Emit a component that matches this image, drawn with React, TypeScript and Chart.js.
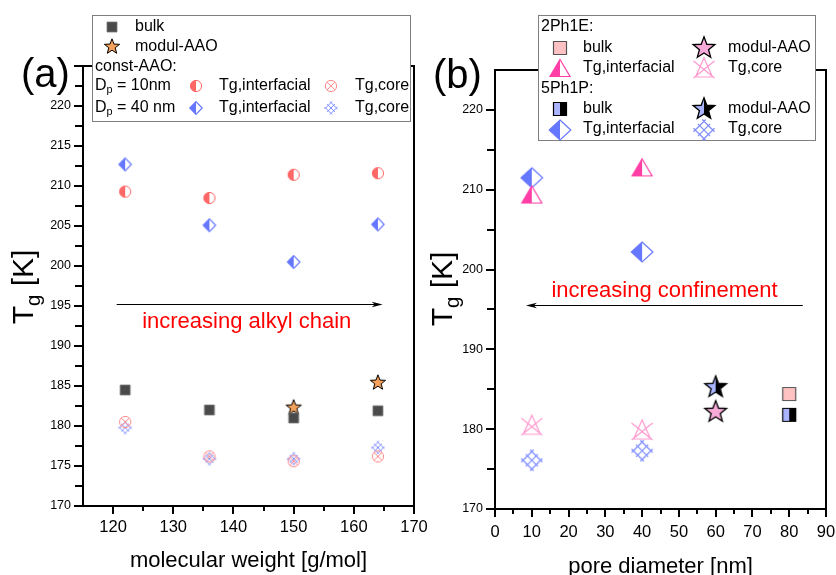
import React, { useEffect, useRef } from 'react';
import { Chart, registerables } from 'chart.js';

Chart.register(...registerables);

const FF = '"Liberation Sans", Arial, Helvetica, sans-serif';

// ---------------- Panel (a): Tg vs molecular weight ----------------
const molecularWeights = [122, 136, 150, 164];
const bulkTgA = [184.5, 182.0, 181.0, 181.9];
const modulMolecularWeights = [150, 164];
const modulTgA = [182.4, 185.5];
const interfacial10A = [209.3, 208.5, 211.4, 211.6];
const core10A = [180.5, 176.2, 175.6, 176.2];
const interfacial40A = [212.7, 205.1, 200.5, 205.2];
const core40A = [179.8, 175.9, 175.9, 177.3];
const xRangeA = [115, 170];
const yRangeA = [170, 225];
const xMajorA = [120, 130, 140, 150, 160, 170];
const xMinorA = [125, 135, 145, 155, 165];
const yMajorA = [170, 175, 180, 185, 190, 195, 200, 205, 210, 215, 220, 225];
const yMinorA = [172.5, 177.5, 182.5, 187.5, 192.5, 197.5, 202.5, 207.5, 212.5, 217.5, 222.5];

// ---------------- Panel (b): Tg vs pore diameter ----------------
const poreDiameters = [10, 40];
const interfacial2Ph1E = [209.4, 212.8];
const core2Ph1E = [180.5, 179.9];
const interfacial5Ph1P = [211.5, 202.2];
const core5Ph1P = [176.1, 177.3];
const bulkPore = [80];
const bulk2Ph1E = [184.4];
const bulk5Ph1P = [181.8];
const modulPore = [60];
const modul2Ph1E = [182.3];
const modul5Ph1P = [185.4];
const xRangeB = [0, 90];
const yRangeB = [170, 225];
const xMajorB = [0, 10, 20, 30, 40, 50, 60, 70, 80, 90];
const xMinorB = [5, 15, 25, 35, 45, 55, 65, 75, 85];
const yMajorB = [170, 180, 190, 200, 210, 220];
const yMinorB = [175, 185, 195, 205, 215];

// annotation anchors (data units)
const arrowA = { from: 120.6, to: 164.8, y: 195.25, textX: 142.2, textY: 192.25 };
const arrowB = { from: 83.7, to: 8.4, y: 195.6, textX: 46.1, textY: 196.5 };

// page split between the two canvases
const SPLIT = 430;
const PAGE_W = 836;
const PAGE_H = 575;

// colours
const RED = '#ff6666';
const RED_LIGHT = '#ff8c8c';
const BLUE = '#6677ff';
const BLUE_LIGHT = '#7d8dff';
const MAGENTA = '#ff3ea6';
const PINK_LIGHT = '#ff99cf';
const LAVENDER = '#aab4ff';

type Ctx = CanvasRenderingContext2D;

function canvasFor(w: number, h: number, draw: (ctx: Ctx) => void) {
  const c = document.createElement('canvas');
  c.width = 2 * Math.ceil(w / 2 + 2);
  c.height = 2 * Math.ceil(h / 2 + 2);
  const ctx = c.getContext('2d')!;
  ctx.translate(c.width / 2, c.height / 2);
  draw(ctx);
  return c;
}

function halfFilled(ctx: Ctx, path: () => void, left: string, right: string, stroke: string, lw: number) {
  path();
  ctx.fillStyle = right;
  ctx.fill();
  ctx.save();
  ctx.beginPath();
  ctx.rect(-60, -60, 60, 120);
  ctx.clip();
  path();
  ctx.fillStyle = left;
  ctx.fill();
  ctx.restore();
  path();
  ctx.strokeStyle = stroke;
  ctx.lineWidth = lw;
  ctx.stroke();
}

function starPath(ctx: Ctx, R: number) {
  const r = R * 0.42;
  const dy = R * 0.1;
  ctx.beginPath();
  for (let i = 0; i < 10; i++) {
    const a = -Math.PI / 2 + (i * Math.PI) / 5;
    const rad = i % 2 ? r : R;
    const x = Math.cos(a) * rad;
    const y = Math.sin(a) * rad + dy;
    if (i === 0) ctx.moveTo(x, y);
    else ctx.lineTo(x, y);
  }
  ctx.closePath();
}

function squareMarker(s: number, left: string, right: string, stroke: string, lw: number) {
  return canvasFor(s, s, (ctx) =>
    halfFilled(ctx, () => { ctx.beginPath(); ctx.rect(-s / 2, -s / 2, s, s); }, left, right, stroke, lw)
  );
}

function starMarker(R: number, left: string, right: string, lw: number) {
  return canvasFor(2 * R, 2 * R, (ctx) => halfFilled(ctx, () => starPath(ctx, R), left, right, '#000', lw));
}

function halfCircle(r: number, color: string) {
  return canvasFor(2 * r, 2 * r, (ctx) =>
    halfFilled(ctx, () => { ctx.beginPath(); ctx.arc(0, 0, r, 0, Math.PI * 2); }, color, '#fff', color, 1)
  );
}

function xCircle(r: number, color: string) {
  return canvasFor(2 * r, 2 * r, (ctx) => {
    ctx.strokeStyle = color;
    ctx.lineWidth = 1;
    ctx.beginPath();
    ctx.arc(0, 0, r, 0, Math.PI * 2);
    const d = r * Math.SQRT1_2;
    ctx.moveTo(-d, -d); ctx.lineTo(d, d);
    ctx.moveTo(d, -d); ctx.lineTo(-d, d);
    ctx.stroke();
  });
}

function halfDiamond(w: number, h: number, color: string) {
  return canvasFor(2 * w, 2 * h, (ctx) =>
    halfFilled(ctx, () => {
      ctx.beginPath();
      ctx.moveTo(0, -h); ctx.lineTo(w, 0); ctx.lineTo(0, h); ctx.lineTo(-w, 0); ctx.closePath();
    }, color, '#fff', color, 1.2)
  );
}

function halfTriangle(w: number, h: number, color: string) {
  return canvasFor(w, h, (ctx) =>
    halfFilled(ctx, () => {
      ctx.beginPath();
      ctx.moveTo(0, -h / 2); ctx.lineTo(w / 2, h / 2); ctx.lineTo(-w / 2, h / 2); ctx.closePath();
    }, color, '#fff', color, 1.2)
  );
}

function triX(w: number, h: number, color: string) {
  return canvasFor(w, h, (ctx) => {
    ctx.strokeStyle = color;
    ctx.lineWidth = 1.2;
    ctx.beginPath();
    ctx.moveTo(0, -h / 2); ctx.lineTo(w / 2 - 2, h / 2 - 1); ctx.lineTo(-w / 2 + 2, h / 2 - 1); ctx.closePath();
    ctx.moveTo(-w / 2, -h / 2 + 3); ctx.lineTo(w / 2, h / 2);
    ctx.moveTo(w / 2, -h / 2 + 3); ctx.lineTo(-w / 2, h / 2);
    ctx.stroke();
  });
}

function hatch(s: number, color: string, lw: number) {
  return canvasFor(s, s, (ctx) => {
    const A = s / 2 / 1.2;
    const e = 0.4 * A;
    ctx.strokeStyle = color;
    ctx.lineWidth = lw;
    ctx.beginPath();
    for (const c of [-A, 0, A]) {
      ctx.moveTo((c - A - e) / 2, (c + A + e) / 2);
      ctx.lineTo((c + A + e) / 2, (c - A - e) / 2);
      ctx.moveTo((-A - e + c) / 2, (-A - e - c) / 2);
      ctx.lineTo((A + e + c) / 2, (A + e - c) / 2);
    }
    ctx.stroke();
  });
}

function buildMarkers() {
  return {
    bulkA: squareMarker(10, '#4a4a4a', '#4a4a4a', '#7a7a7a', 0.8),
    starA: starMarker(8, '#f4a15d', '#f4a15d', 1),
    half10: halfCircle(5.6, RED),
    xcirc10: xCircle(5.6, RED_LIGHT),
    diamond40: halfDiamond(6.2, 6.4, BLUE),
    hatch40: hatch(13, BLUE_LIGHT, 1),
    bulk2: squareMarker(13, '#ffc2c2', '#ffc2c2', '#555', 1.2),
    star2: starMarker(11.4, '#f7aad8', '#f7aad8', 1.3),
    tri2: halfTriangle(20, 17, MAGENTA),
    trix2: triX(21, 20, PINK_LIGHT),
    bulk5: squareMarker(13, LAVENDER, '#000', '#000', 1.2),
    star5: starMarker(11.4, LAVENDER, '#000', 1.3),
    diamond5: halfDiamond(10.8, 10, BLUE),
    hatch5: hatch(21, BLUE_LIGHT, 1.2),
  };
}
type Markers = ReturnType<typeof buildMarkers>;

function put(ctx: Ctx, img: HTMLCanvasElement, x: number, y: number) {
  ctx.drawImage(img, Math.round(x - img.width / 2), Math.round(y - img.height / 2));
}

function richText(ctx: Ctx, x: number, y: number, parts: Array<{ t: string; sub?: boolean }>, size: number, center: boolean) {
  const subSize = size * 0.68;
  ctx.textAlign = 'left';
  const widths = parts.map((p) => {
    ctx.font = `${p.sub ? subSize : size}px ${FF}`;
    return ctx.measureText(p.t).width;
  });
  const total = widths.reduce((a, b) => a + b, 0);
  let cx = center ? x - total / 2 : x;
  parts.forEach((p, i) => {
    ctx.font = `${p.sub ? subSize : size}px ${FF}`;
    ctx.fillText(p.t, cx, p.sub ? y + size * 0.22 : y);
    cx += widths[i];
  });
}

function yTitle(ctx: Ctx, xBase: number, yCenter: number) {
  ctx.save();
  ctx.translate(xBase, yCenter);
  ctx.rotate(-Math.PI / 2);
  ctx.fillStyle = '#000';
  ctx.textBaseline = 'alphabetic';
  richText(ctx, 0, 0, [{ t: 'T' }, { t: 'g', sub: true }, { t: ' [K]' }], 30, true);
  ctx.restore();
}

function drawArrow(ctx: Ctx, x1: number, x2: number, y: number) {
  const dir = Math.sign(x2 - x1);
  ctx.save();
  ctx.strokeStyle = '#000';
  ctx.fillStyle = '#000';
  ctx.lineWidth = 1.2;
  ctx.beginPath();
  ctx.moveTo(x1, y);
  ctx.lineTo(x2 - dir * 6, y);
  ctx.stroke();
  ctx.beginPath();
  ctx.moveTo(x2, y);
  ctx.lineTo(x2 - dir * 11, y - 2.8);
  ctx.lineTo(x2 - dir * 8, y);
  ctx.lineTo(x2 - dir * 11, y + 2.8);
  ctx.closePath();
  ctx.fill();
  ctx.restore();
}

function frameAndTicks(chart: any, xMajor: number[], xMinor: number[], yMajor: number[], yMinor: number[]) {
  const ctx: Ctx = chart.ctx;
  const sx = chart.scales.x;
  const sy = chart.scales.y;
  const l = Math.round(sx.left);
  const r = Math.round(sx.right);
  const t = Math.round(sy.top);
  const b = Math.round(sy.bottom);
  ctx.save();
  ctx.globalAlpha = 1;
  ctx.globalCompositeOperation = 'source-over';
  ctx.setLineDash([]);
  ctx.strokeStyle = '#000000';
  ctx.lineWidth = 2;
  ctx.beginPath();
  ctx.moveTo(l, t); ctx.lineTo(r, t); ctx.lineTo(r, b); ctx.lineTo(l, b); ctx.closePath();
  ctx.stroke();
  ctx.beginPath();
  for (const v of xMajor) { const p = Math.round(sx.getPixelForValue(v)); ctx.moveTo(p, b); ctx.lineTo(p, b + 8); }
  for (const v of xMinor) { const p = Math.round(sx.getPixelForValue(v)); ctx.moveTo(p, b); ctx.lineTo(p, b + 4); }
  for (const v of yMajor) { const p = Math.round(sy.getPixelForValue(v)); ctx.moveTo(l, p); ctx.lineTo(l - 9, p); }
  for (const v of yMinor) { const p = Math.round(sy.getPixelForValue(v)); ctx.moveTo(l, p); ctx.lineTo(l - 5, p); }
  ctx.stroke();
  ctx.restore();
}

function legendBox(ctx: Ctx, x: number, y: number, w: number, h: number) {
  ctx.fillStyle = '#fff';
  ctx.fillRect(x, y, w, h);
  ctx.strokeStyle = '#7f7f7f';
  ctx.lineWidth = 1;
  ctx.strokeRect(x + 0.5, y + 0.5, w - 1, h - 1);
  ctx.fillStyle = '#000';
  ctx.font = `16px ${FF}`;
  ctx.textBaseline = 'middle';
  ctx.textAlign = 'left';
}

// axis with the library's own border and outward tick marks (minor ones shortened by a dash)
function axisCfg(range: number[], major: number[], minor: number[], fit: (s: any) => void, size: number, padding: number, hideAbove: number) {
  const all = [...major, ...minor].sort((a, b) => a - b);
  const isMajor = (v: number) => major.some((m) => Math.abs(m - v) < 1e-6);
  return {
    type: 'linear' as const,
    min: range[0],
    max: range[1],
    bounds: 'data' as const,
    grid: {
      display: true,
      drawOnChartArea: false,
      drawTicks: true,
      tickLength: 8,
      color: '#000',
      lineWidth: 2,
      tickBorderDash: (c: any) => (c.tick && isMajor(c.tick.value) ? [] : [4, 40]),
    },
    border: { display: true, color: '#000', width: 2 },
    afterBuildTicks: (s: any) => { s.ticks = all.map((v) => ({ value: v })); },
    afterFit: fit,
    ticks: {
      autoSkip: false,
      maxRotation: 0,
      color: '#000',
      padding,
      font: { size, family: FF },
      callback: (v: any) => (isMajor(Number(v)) && Number(v) <= hideAbove ? String(v) : ''),
    },
  };
}

function frameAxis(position: 'top' | 'right', range: number[]) {
  return {
    type: 'linear' as const,
    position,
    min: range[0],
    max: range[1],
    display: true,
    grid: { display: false, drawTicks: false },
    ticks: { display: false },
    border: { display: true, color: '#000', width: 2 },
    afterFit: (s: any) => {
      if (position === 'top') s.height = 0; else s.width = 0;
      s.paddingLeft = 0; s.paddingRight = 0; s.paddingTop = 0; s.paddingBottom = 0;
    },
  };
}

function xy(xs: number[], ys: number[]) {
  return xs.map((x, i) => ({ x, y: ys[i] }));
}

function ds(label: string, xs: number[], ys: number[], img: HTMLCanvasElement) {
  return { label, data: xy(xs, ys), pointStyle: img, pointRadius: 6, showLine: false, clip: false as const, xAxisID: 'x', yAxisID: 'y' };
}

// plot frame as a closed polyline along the axis limits
function frameDs(xr: number[], yr: number[]) {
  return {
    type: 'line' as const,
    label: 'frame',
    data: [
      { x: xr[0], y: yr[1] }, { x: xr[1], y: yr[1] }, { x: xr[1], y: yr[0] }, { x: xr[0], y: yr[0] }, { x: xr[0], y: yr[1] },
    ],
    borderColor: '#000',
    borderWidth: 2,
    pointRadius: 0,
    fill: false,
    tension: 0,
    showLine: true,
    clip: false as const,
    xAxisID: 'x',
    yAxisID: 'y',
  };
}

function configA(m: Markers): any {
  const plugin = {
    id: 'decorA',
    afterDraw(chart: any) {
      frameAndTicks(chart, xMajorA, xMinorA, yMajorA, yMinorA);
      const ctx: Ctx = chart.ctx;
      const { x, y } = chart.scales;
      ctx.save();
      drawArrow(ctx, x.getPixelForValue(arrowA.from), x.getPixelForValue(arrowA.to), Math.round(y.getPixelForValue(arrowA.y)) + 0.5);
      ctx.fillStyle = '#ff0000';
      ctx.font = `22px ${FF}`;
      ctx.textAlign = 'center';
      ctx.textBaseline = 'alphabetic';
      ctx.fillText('increasing alkyl chain', x.getPixelForValue(arrowA.textX), y.getPixelForValue(arrowA.textY));
      ctx.fillStyle = '#000';
      ctx.fillText('molecular weight [g/mol]', (chart.chartArea.left + chart.chartArea.right) / 2, 567);
      ctx.font = `40px ${FF}`;
      ctx.textAlign = 'left';
      ctx.fillText('(a)', 21, 87);
      yTitle(ctx, 33, 287);
      legendBox(ctx, 92, 15, 319, 107);
      put(ctx, m.bulkA, 112, 27); ctx.fillText('bulk', 135, 27);
      put(ctx, m.starA, 112, 46); ctx.fillText('modul-AAO', 135, 47);
      ctx.fillText('const-AAO:', 95, 67);
      richText(ctx, 95, 86, [{ t: 'D' }, { t: 'p', sub: true }, { t: ' = 10nm' }], 16, false);
      put(ctx, m.half10, 196, 86); ctx.font = `16px ${FF}`; ctx.fillText('Tg,interfacial', 219, 86);
      put(ctx, m.xcirc10, 331, 86); ctx.fillText('Tg,core', 355, 86);
      richText(ctx, 95, 108, [{ t: 'D' }, { t: 'p', sub: true }, { t: ' = 40 nm' }], 16, false);
      put(ctx, m.diamond40, 196, 108); ctx.font = `16px ${FF}`; ctx.fillText('Tg,interfacial', 219, 108);
      put(ctx, m.hatch40, 331, 108); ctx.fillText('Tg,core', 355, 108);
      ctx.restore();
    },
  };
  return {
    type: 'scatter',
    data: {
      datasets: [
        frameDs(xRangeA, yRangeA),
        ds('bulk', molecularWeights, bulkTgA, m.bulkA),
        ds('Dp=10nm Tg,core', molecularWeights, core10A, m.xcirc10),
        ds('Dp=40nm Tg,core', molecularWeights, core40A, m.hatch40),
        ds('Dp=10nm Tg,interfacial', molecularWeights, interfacial10A, m.half10),
        ds('Dp=40nm Tg,interfacial', molecularWeights, interfacial40A, m.diamond40),
        ds('modul-AAO', modulMolecularWeights, modulTgA, m.starA),
      ],
    },
    options: {
      responsive: false,
      animation: false,
      devicePixelRatio: 1,
      events: [],
      layout: { padding: { left: 0, top: 66, right: 16, bottom: 0 } },
      plugins: { legend: { display: false }, tooltip: { enabled: false } },
      scales: {
        x: axisCfg(xRangeA, xMajorA, xMinorA, (s: any) => { s.height = 69; s.paddingLeft = 0; s.paddingRight = 0; }, 16.5, 4, 1e9),
        y: axisCfg(yRangeA, yMajorA, yMinorA, (s: any) => { s.width = 83; }, 12.5, 4, 220),
        x2: frameAxis('top', xRangeA),
        y2: frameAxis('right', yRangeA),
      },
    },
    plugins: [plugin],
  };
}

function configB(m: Markers): any {
  const plugin = {
    id: 'decorB',
    afterDraw(chart: any) {
      frameAndTicks(chart, xMajorB, xMinorB, yMajorB, yMinorB);
      const ctx: Ctx = chart.ctx;
      const { x, y } = chart.scales;
      ctx.save();
      drawArrow(ctx, x.getPixelForValue(arrowB.from), x.getPixelForValue(arrowB.to), Math.round(y.getPixelForValue(arrowB.y)) + 0.5);
      ctx.fillStyle = '#ff0000';
      ctx.font = `22px ${FF}`;
      ctx.textAlign = 'center';
      ctx.textBaseline = 'alphabetic';
      ctx.fillText('increasing confinement', x.getPixelForValue(arrowB.textX), y.getPixelForValue(arrowB.textY));
      ctx.fillStyle = '#000';
      ctx.fillText('pore diameter [nm]', (chart.chartArea.left + chart.chartArea.right) / 2, 573);
      // remaining decorations are placed in page coordinates
      ctx.translate(-SPLIT, 0);
      ctx.font = `40px ${FF}`;
      ctx.textAlign = 'left';
      ctx.fillText('(b)', 433, 88);
      yTitle(ctx, 452, 289);
      legendBox(ctx, 538, 15, 278, 126);
      ctx.fillText('2Ph1E:', 541, 27);
      put(ctx, m.bulk2, 560, 48); ctx.fillText('bulk', 583, 48);
      put(ctx, m.star2, 704, 47); ctx.fillText('modul-AAO', 728, 48);
      put(ctx, m.tri2, 560, 68); ctx.fillText('Tg,interfacial', 583, 68);
      put(ctx, m.trix2, 704, 68); ctx.fillText('Tg,core', 728, 68);
      ctx.fillText('5Ph1P:', 541, 89);
      put(ctx, m.bulk5, 560, 109); ctx.fillText('bulk', 583, 109);
      put(ctx, m.star5, 704, 108); ctx.fillText('modul-AAO', 728, 109);
      put(ctx, m.diamond5, 560, 130); ctx.fillText('Tg,interfacial', 583, 129);
      put(ctx, m.hatch5, 704, 130); ctx.fillText('Tg,core', 728, 129);
      ctx.restore();
    },
  };
  return {
    type: 'scatter',
    data: {
      datasets: [
        frameDs(xRangeB, yRangeB),
        ds('2Ph1E Tg,core', poreDiameters, core2Ph1E, m.trix2),
        ds('5Ph1P Tg,core', poreDiameters, core5Ph1P, m.hatch5),
        ds('2Ph1E Tg,interfacial', poreDiameters, interfacial2Ph1E, m.tri2),
        ds('5Ph1P Tg,interfacial', poreDiameters, interfacial5Ph1P, m.diamond5),
        ds('2Ph1E bulk', bulkPore, bulk2Ph1E, m.bulk2),
        ds('5Ph1P bulk', bulkPore, bulk5Ph1P, m.bulk5),
        ds('2Ph1E modul-AAO', modulPore, modul2Ph1E, m.star2),
        ds('5Ph1P modul-AAO', modulPore, modul5Ph1P, m.star5),
      ],
    },
    options: {
      responsive: false,
      animation: false,
      devicePixelRatio: 1,
      events: [],
      layout: { padding: { left: 0, top: 70, right: 10, bottom: 0 } },
      plugins: { legend: { display: false }, tooltip: { enabled: false } },
      scales: {
        x: axisCfg(xRangeB, xMajorB, xMinorB, (s: any) => { s.height = 66; s.paddingLeft = 0; s.paddingRight = 0; }, 16.5, 6, 1e9),
        y: axisCfg(yRangeB, yMajorB, yMinorB, (s: any) => { s.width = 65; }, 12.5, 4, 1e9),
        x2: frameAxis('top', xRangeB),
        y2: frameAxis('right', yRangeB),
      },
    },
    plugins: [plugin],
  };
}

export default function App() {
  const refA = useRef<HTMLCanvasElement>(null);
  const refB = useRef<HTMLCanvasElement>(null);
  useEffect(() => {
    const markers = buildMarkers();
    const a = new Chart(refA.current!, configA(markers));
    const b = new Chart(refB.current!, configB(markers));
    return () => {
      a.destroy();
      b.destroy();
    };
  }, []);
  return (
    <div style={{ position: 'fixed', left: 0, top: 0, width: PAGE_W, height: PAGE_H, background: '#fff' }}>
      <canvas
        ref={refA}
        width={SPLIT}
        height={PAGE_H}
        style={{ position: 'absolute', left: 0, top: 0, width: SPLIT, height: PAGE_H }}
      />
      <canvas
        ref={refB}
        width={PAGE_W - SPLIT}
        height={PAGE_H}
        style={{ position: 'absolute', left: SPLIT, top: 0, width: PAGE_W - SPLIT, height: PAGE_H }}
      />
    </div>
  );
}
